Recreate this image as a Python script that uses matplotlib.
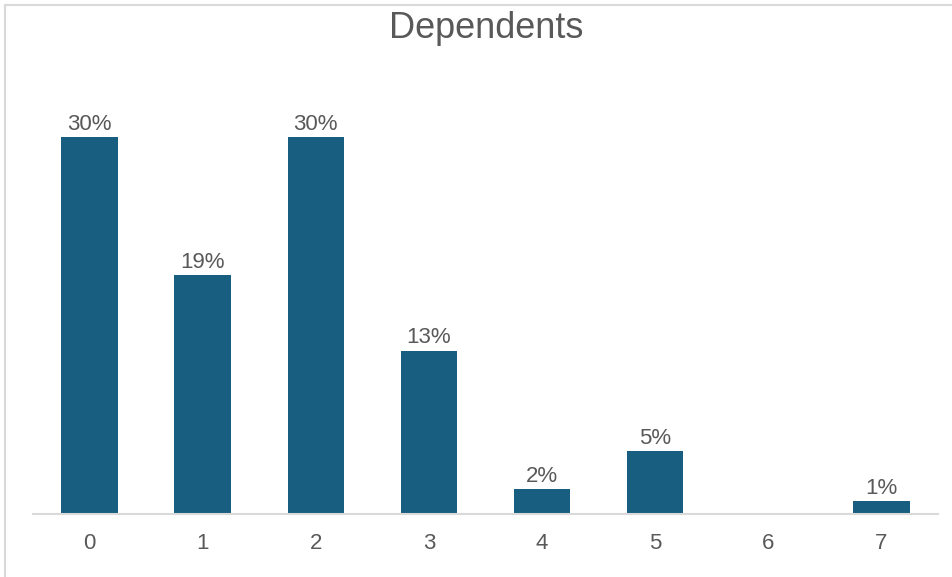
import matplotlib.pyplot as plt
from matplotlib.patches import Rectangle

categories = ['0', '1', '2', '3', '4', '5', '6', '7']
shares = [30, 19, 30, 13, 2, 5, 0, 1]
labels = ['30%', '19%', '30%', '13%', '2%', '5%', '', '1%']

bar_color = '#175e80'
text_color = '#595959'

plt.rcParams['font.family'] = ['Liberation Sans', 'DejaVu Sans']

fig = plt.figure(figsize=(9.52, 5.77), dpi=100)
ax = fig.add_axes([33 / 952, 63 / 577, 905 / 952, 440 / 577])

# light frame round the chart area
fig.patches.append(Rectangle((5 / 952, -0.1), 1.1, 1.1 - 5 / 577, transform=fig.transFigure,
                             fill=False, edgecolor='#d9d9d9', linewidth=1.5))

x = list(range(len(categories)))
bars = ax.bar(x, shares, width=0.5, color=bar_color, zorder=2)

for b, lab in zip(bars, labels):
    if lab:
        ax.annotate(lab, (b.get_x() + b.get_width() / 2, b.get_height()),
                    xytext=(0, 1.5), textcoords='offset points',
                    ha='center', va='bottom', fontsize=16, color=text_color)

ax.set_xlim(-0.5, 7.5)
ax.set_ylim(0, 35)
ax.set_xticks(x)
ax.set_xticklabels(categories, fontsize=16, color=text_color)
ax.tick_params(axis='x', length=0, pad=14)
ax.set_yticks([])
for s in ['top', 'right', 'left']:
    ax.spines[s].set_visible(False)
ax.spines['bottom'].set_color('#d9d9d9')
ax.spines['bottom'].set_linewidth(1.5)

fig.text(486 / 952, 1 - 29 / 577, 'Dependents', ha='center', va='center',
         fontsize=26, color=text_color)

fig.savefig('out.png', dpi=100)
